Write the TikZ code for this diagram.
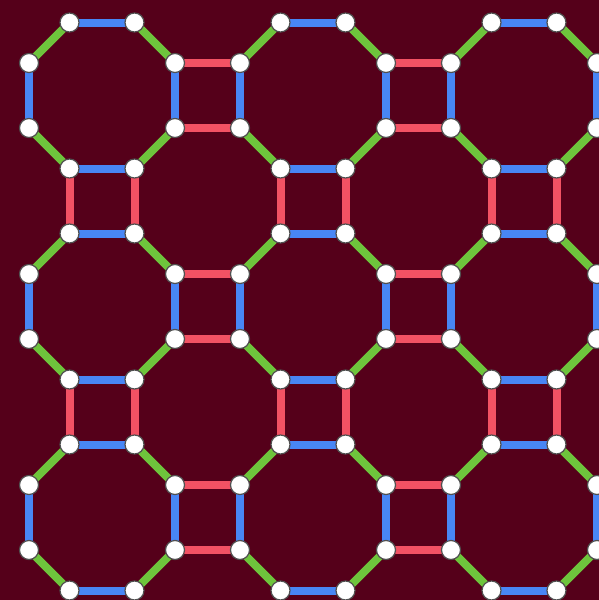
\documentclass[tikz,border=0pt]{standalone}
\usepackage{tikz}

\definecolor{bgmaroon}{RGB}{85,0,26}
\definecolor{edgered}{RGB}{242,82,100}
\definecolor{edgeblue}{RGB}{72,134,245}
\definecolor{edgegreen}{RGB}{110,196,60}
\definecolor{rimgray}{RGB}{80,80,80}

\pgfdeclarelayer{bg}
\pgfsetlayers{bg,main}

\tikzset{
    vertex/.style={circle,fill=white,draw=rimgray,line width=1.2pt,minimum size=19pt,inner sep=0pt},
    rededge/.style={draw=edgered,line width=8pt},
    blueedge/.style={draw=edgeblue,line width=8pt},
    greenedge/.style={draw=edgegreen,line width=8pt}
}

\begin{document}
\begin{tikzpicture}[x=1pt,y=-1pt]
    \useasboundingbox (0,0) rectangle (599,600);

    % Squares of the first kind (blue sides left and right)
    \foreach \i in {0,...,3}{
        \foreach \j in {1,...,3}{
            \pgfmathsetmacro\cx{-3.5+211*\i}
            \pgfmathsetmacro\cy{-115.5+211*\j}
            \ifnum\i>0
                \node[vertex] (a-\i-\j-1) at (\cx-32.5,\cy-32.5) {};
                \node[vertex] (a-\i-\j-4) at (\cx-32.5,\cy+32.5) {};
            \fi
            \ifnum\i<3
                \node[vertex] (a-\i-\j-2) at (\cx+32.5,\cy-32.5) {};
                \node[vertex] (a-\i-\j-3) at (\cx+32.5,\cy+32.5) {};
            \fi
        }
    }

    % Squares of the second kind (blue sides top and bottom)
    \foreach \i in {1,...,3}{
        \foreach \j in {0,...,3}{
            \pgfmathsetmacro\cx{-109+211*\i}
            \pgfmathsetmacro\cy{-10+211*\j}
            \ifnum\j>0
                \node[vertex] (b-\i-\j-1) at (\cx-32.5,\cy-32.5) {};
                \node[vertex] (b-\i-\j-2) at (\cx+32.5,\cy-32.5) {};
            \fi
            \ifnum\j<3
                \node[vertex] (b-\i-\j-3) at (\cx+32.5,\cy+32.5) {};
                \node[vertex] (b-\i-\j-4) at (\cx-32.5,\cy+32.5) {};
            \fi
        }
    }

    \begin{pgfonlayer}{bg}
        % Background
        \fill[bgmaroon] (0,0) rectangle (599,600);

        % Sides of the squares
        \foreach \i in {0,...,3}{
            \foreach \j in {1,...,3}{
                \ifnum\i>0
                    \draw[blueedge] (a-\i-\j-1.center) -- (a-\i-\j-4.center);
                \fi
                \ifnum\i<3
                    \draw[blueedge] (a-\i-\j-2.center) -- (a-\i-\j-3.center);
                    \ifnum\i>0
                        \draw[rededge] (a-\i-\j-1.center) -- (a-\i-\j-2.center);
                        \draw[rededge] (a-\i-\j-4.center) -- (a-\i-\j-3.center);
                    \fi
                \fi
            }
        }
        \foreach \i in {1,...,3}{
            \foreach \j in {0,...,3}{
                \ifnum\j>0
                    \draw[blueedge] (b-\i-\j-1.center) -- (b-\i-\j-2.center);
                \fi
                \ifnum\j<3
                    \draw[blueedge] (b-\i-\j-4.center) -- (b-\i-\j-3.center);
                    \ifnum\j>0
                        \draw[rededge] (b-\i-\j-1.center) -- (b-\i-\j-4.center);
                        \draw[rededge] (b-\i-\j-2.center) -- (b-\i-\j-3.center);
                    \fi
                \fi
            }
        }

        % Diagonal sides between the octagons
        \foreach \i in {0,...,3}{
            \foreach \j in {1,...,3}{
                \pgfmathtruncatemacro\ni{\i+1}
                \pgfmathtruncatemacro\pj{\j-1}
                \ifnum\i>0
                    \draw[greenedge] (a-\i-\j-1.center) -- (b-\i-\pj-3.center);
                    \draw[greenedge] (a-\i-\j-4.center) -- (b-\i-\j-2.center);
                \fi
                \ifnum\i<3
                    \draw[greenedge] (a-\i-\j-2.center) -- (b-\ni-\pj-4.center);
                    \draw[greenedge] (a-\i-\j-3.center) -- (b-\ni-\j-1.center);
                \fi
            }
        }
    \end{pgfonlayer}
\end{tikzpicture}
\end{document}
